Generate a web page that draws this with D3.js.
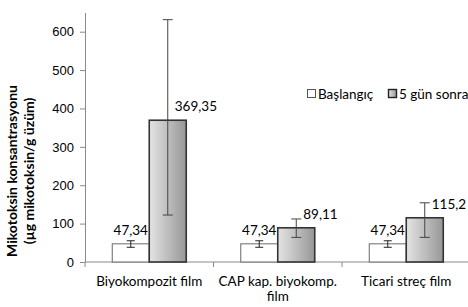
<!DOCTYPE html>
<html>
<head>
<meta charset="utf-8">
<script src="https://cdn.jsdelivr.net/npm/d3@7"></script>
<style>
    body { margin: 0; background: #fff; }
    svg { font-family: Lato, "Open Sans", sans-serif; }
</style>
</head>
<body>
<div id="chart"></div>
<script>
const categories = ["Biyokompozit film", "CAP kap. biyokomp.|film", "Ticari streç film"];
const seriesNames = ["Başlangıç", "5 gün sonra"];
const startValues = [47.34, 47.34, 47.34];
const afterValues = [369.35, 89.11, 115.2];
const startErrPlus = [8, 8, 8];
const startErrMinus = [9, 9, 9];
const afterErrPlus = [262, 23, 39];
const afterErrMinus = [247, 25, 51];
const valueLabels = [["47,34", "47,34", "47,34"], ["369,35", "89,11", "115,2"]];
const yTicks = [0, 100, 200, 300, 400, 500, 600];

const width = 468;
const height = 307;
const left = 85;
const bottom = 262;

const svg = d3.select("#chart")
    .append("svg")
    .attr("width", width)
    .attr("height", height);

const defs = svg.append("defs");
const gradient = defs.append("linearGradient")
    .attr("id", "grayBar")
    .attr("x1", "0%").attr("x2", "100%")
    .attr("y1", "0%").attr("y2", "0%");
gradient.append("stop").attr("offset", "0%").attr("stop-color", "#e4e4e4");
gradient.append("stop").attr("offset", "100%").attr("stop-color", "#979797");

const x = d3.scaleBand()
    .domain(categories)
    .range([left, left + 128.5 * 3])
    .paddingInner(0)
    .paddingOuter(0);

const y = d3.scaleLinear()
    .domain([0, 650])
    .range([bottom, 12.5]);

const barW = 37;

// y axis
const yAxis = svg.append("g")
    .attr("transform", `translate(${left},0)`)
    .call(d3.axisLeft(y).tickValues(yTicks).tickSize(5).tickPadding(6).tickSizeOuter(0));
yAxis.select(".domain").attr("stroke", "#8a8a8a");
yAxis.selectAll(".tick line").attr("stroke", "#8a8a8a");
yAxis.selectAll(".tick text").attr("font-size", 13).attr("fill", "#000");

// x axis line and category ticks
svg.append("line")
    .attr("x1", left).attr("x2", width)
    .attr("y1", bottom).attr("y2", bottom)
    .attr("stroke", "#8a8a8a");

svg.selectAll(".cat-tick")
    .data(categories)
    .enter()
    .append("line")
    .attr("x1", d => x(d)).attr("x2", d => x(d))
    .attr("y1", bottom).attr("y2", bottom + 5)
    .attr("stroke", "#8a8a8a");

const catLabels = svg.selectAll(".cat-label")
    .data(categories)
    .enter()
    .append("text")
    .attr("text-anchor", "middle")
    .attr("font-size", 13.5)
    .attr("fill", "#000");

catLabels.each(function (d) {
    const lines = d.split("|");
    const t = d3.select(this);
    lines.forEach((line, i) => {
        t.append("tspan")
            .attr("x", x(d) + x.bandwidth() / 2)
            .attr("y", 286 + i * 15)
            .text(line);
    });
});

const groups = categories.map((c, i) => ({
    cat: c,
    bars: [
        { s: 0, v: startValues[i], ep: startErrPlus[i], em: startErrMinus[i], label: valueLabels[0][i] },
        { s: 1, v: afterValues[i], ep: afterErrPlus[i], em: afterErrMinus[i], label: valueLabels[1][i] }
    ]
}));

const barX = (cat, s) => x(cat) + x.bandwidth() / 2 - barW + s * barW;

groups.forEach(g => {
    g.bars.forEach(b => {
        const bx = barX(g.cat, b.s);
        svg.append("rect")
            .attr("x", bx)
            .attr("y", y(b.v))
            .attr("width", barW)
            .attr("height", bottom - y(b.v))
            .attr("fill", b.s === 0 ? "#fff" : "url(#grayBar)")
            .attr("stroke", b.s === 0 ? "#6a6a6a" : "#333")
            .attr("stroke-width", b.s === 0 ? 1 : 1.6);
    });
});

// error bars and value labels drawn on top
groups.forEach(g => {
    g.bars.forEach(b => {
        const cx = barX(g.cat, b.s) + barW / 2;
        const capW = b.s === 0 ? 4 : 5;
        const e = svg.append("g").attr("stroke", b.s === 0 ? "#222" : "#444").attr("stroke-width", 1);
        e.append("line").attr("x1", cx).attr("x2", cx).attr("y1", y(b.v + b.ep)).attr("y2", y(b.v - b.em));
        e.append("line").attr("x1", cx - capW).attr("x2", cx + capW).attr("y1", y(b.v + b.ep)).attr("y2", y(b.v + b.ep));
        e.append("line").attr("x1", cx - capW).attr("x2", cx + capW).attr("y1", y(b.v - b.em)).attr("y2", y(b.v - b.em));

        svg.append("text")
            .attr("x", b.s === 0 ? cx : cx + 7)
            .attr("y", y(b.v) - 14)
            .attr("dy", "0.35em")
            .attr("text-anchor", b.s === 0 ? "middle" : "start")
            .attr("font-size", 13.5)
            .attr("fill", "#000")
            .text(b.label);
    });
});

// legend
const legendX = [307, 388];
seriesNames.forEach((name, i) => {
    svg.append("rect")
        .attr("x", legendX[i] + 0.5)
        .attr("y", 89.5)
        .attr("width", 8)
        .attr("height", 8)
        .attr("fill", i === 0 ? "#fff" : "url(#grayBar)")
        .attr("stroke", i === 0 ? "#555" : "#222")
        .attr("stroke-width", i === 0 ? 1 : 1.4);
    svg.append("text")
        .attr("x", legendX[i] + 11)
        .attr("y", 94)
        .attr("dy", "0.35em")
        .attr("font-size", 13.5)
        .attr("fill", "#000")
        .text(name);
});

// y title
const title = svg.append("text")
    .attr("transform", "translate(0,171) rotate(-90)")
    .attr("text-anchor", "middle")
    .attr("font-size", 14)
    .attr("font-weight", "bold")
    .attr("fill", "#000");
title.append("tspan").attr("x", 0).attr("y", 17).text("Mikotoksin konsantrasyonu");
title.append("tspan").attr("x", 0).attr("y", 34).text("(µg mikotoksin/g üzüm)");
</script>
</body>
</html>
